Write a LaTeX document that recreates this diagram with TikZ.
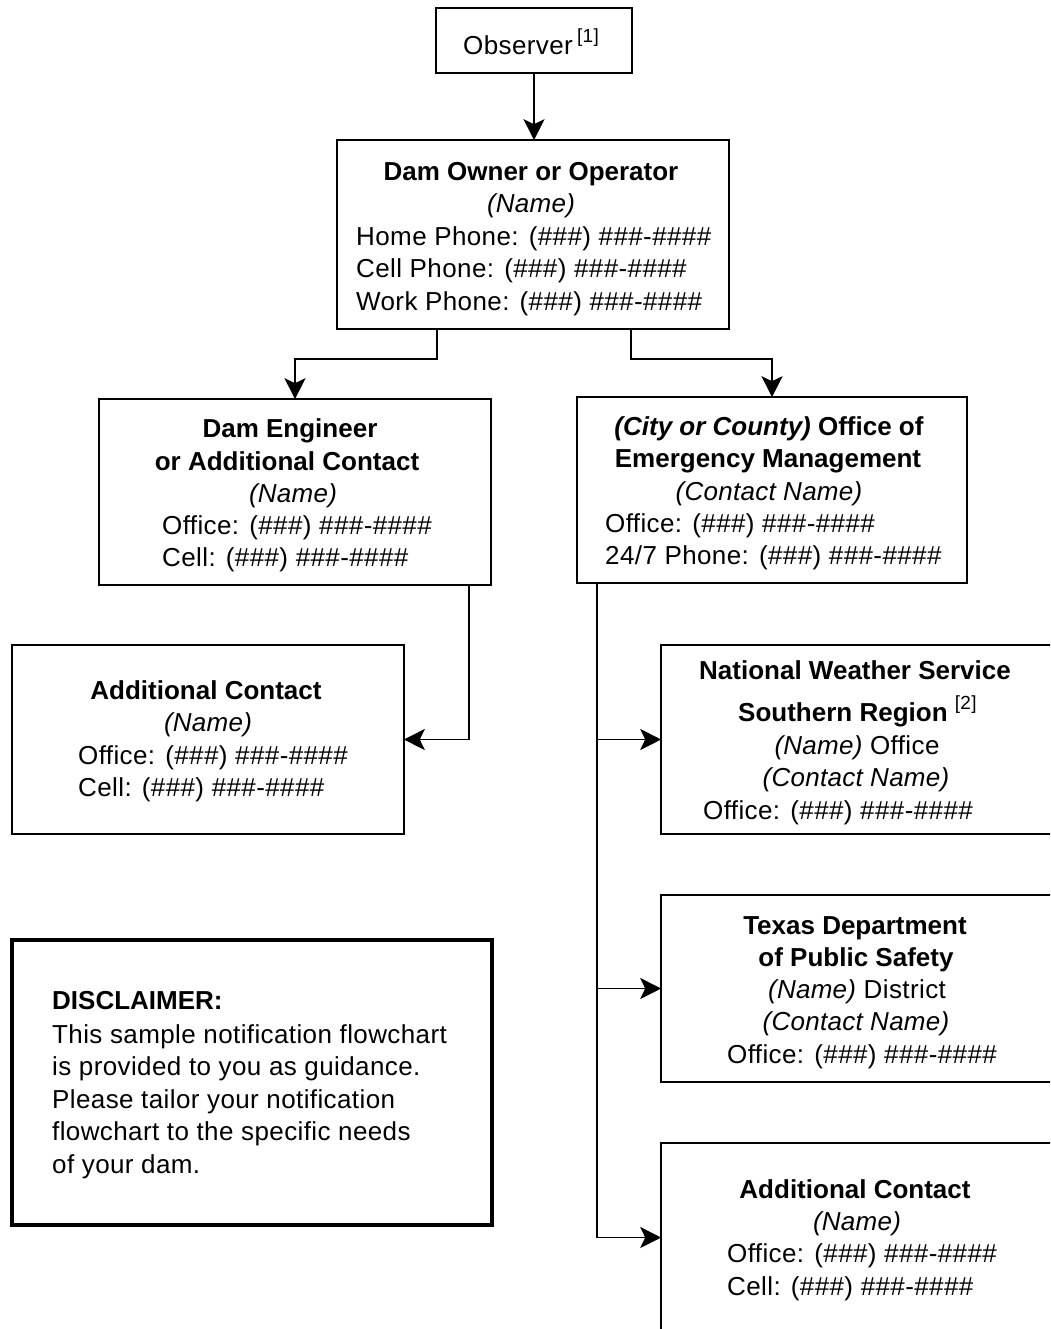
\documentclass[tikz,border=0pt]{standalone}
\usepackage{fontspec}
\setmainfont{Liberation Sans}[UprightFeatures={LetterSpace=1.5}, ItalicFeatures={LetterSpace=1.0}]
\usetikzlibrary{arrows.meta}
\newcommand{\supmark}[1]{\raisebox{12pt}{\fontsize{19}{19}\selectfont [#1]}}
\begin{document}
\begin{tikzpicture}[x=1pt,y=-1pt,
  box/.style={draw, line width=1.6pt, inner sep=0pt},
  thickbox/.style={draw, line width=3.5pt, inner sep=0pt},
  t/.style={inner sep=0pt, anchor=base, font=\fontsize{26}{31}\selectfont},
  tl/.style={inner sep=0pt, anchor=base west, font=\fontsize{26}{31}\selectfont},
  arr/.style={line width=1.6pt, -{Stealth[length=21pt,width=21pt,inset=5pt]}, shorten >=-1pt}]
\useasboundingbox (0,0) rectangle (1050,1329);
\clip (0,0) rectangle (1050,1329);
% boxes
\node[box, minimum width=196pt, minimum height=65pt] (obs) at (534,40.5) {};
\node[box, minimum width=392pt, minimum height=189pt] (owner) at (533,234.5) {};
\node[box, minimum width=392pt, minimum height=186pt] (eng) at (295,492) {};
\node[box, minimum width=390pt, minimum height=186pt] (oem) at (772,490) {};
\node[box, minimum width=392pt, minimum height=189pt] (addl) at (208,739.5) {};
\node[box, minimum width=392pt, minimum height=189pt] (nws) at (857,739.5) {};
\node[box, minimum width=392pt, minimum height=187pt] (dps) at (857,988.5) {};
\node[box, minimum width=392pt, minimum height=189pt] (addr) at (857,1237.5) {};
\node[thickbox, minimum width=480pt, minimum height=285pt] (disc) at (252,1082.5) {};
% texts
\node[tl] (obsT) at (463,55) {Observer\,\supmark{1}};
\node[t] (ownT1) at (531,181) {\bfseries Dam Owner or Operator};
\node[t] (ownT2) at (531,213) {\itshape (Name)};
\node[tl] (ownT3) at (356,246) {Home Phone: (\#\#\#) \#\#\#-\#\#\#\#};
\node[tl] (ownT4) at (356,278) {Cell Phone: (\#\#\#) \#\#\#-\#\#\#\#};
\node[tl] (ownT5) at (356,310) {Work Phone: (\#\#\#) \#\#\#-\#\#\#\#};
\node[t] (engT1) at (290,437) {\bfseries Dam Engineer};
\node[t] (engT2) at (287,470) {\bfseries or Additional Contact};
\node[t] (engT3) at (293,502) {\itshape (Name)};
\node[tl] (engT4) at (162,534) {Office: (\#\#\#) \#\#\#-\#\#\#\#};
\node[tl] (engT5) at (162,566) {Cell: (\#\#\#) \#\#\#-\#\#\#\#};
\node[t] (oemT1) at (769,435) {\bfseries\itshape (City or County)\upshape\ Office of};
\node[t] (oemT2) at (768,467) {\bfseries Emergency Management};
\node[t] (oemT3) at (769,500) {\itshape (Contact Name)};
\node[tl] (oemT4) at (605,532) {Office: (\#\#\#) \#\#\#-\#\#\#\#};
\node[tl] (oemT5) at (605,564) {24/7 Phone: (\#\#\#) \#\#\#-\#\#\#\#};
\node[t] (adlT1) at (206,699) {\bfseries Additional Contact};
\node[t] (adlT2) at (208,731) {\itshape (Name)};
\node[tl] (adlT3) at (78,764) {Office: (\#\#\#) \#\#\#-\#\#\#\#};
\node[tl] (adlT4) at (78,796) {Cell: (\#\#\#) \#\#\#-\#\#\#\#};
\node[t] (nwsT1) at (855,679) {\bfseries National Weather Service};
\node[tl] (nwsT2) at (738,721) {\bfseries Southern Region \mdseries\supmark{2}};
\node[t] (nwsT3) at (857,754) {\itshape (Name)\upshape\ Office};
\node[t] (nwsT4) at (856,786) {\itshape (Contact Name)};
\node[tl] (nwsT5) at (703,819) {Office: (\#\#\#) \#\#\#-\#\#\#\#};
\node[t] (dpsT1) at (855,934) {\bfseries Texas Department};
\node[t] (dpsT2) at (856,966) {\bfseries of Public Safety};
\node[t] (dpsT3) at (857,998) {\itshape (Name)\upshape\ District};
\node[t] (dpsT4) at (856,1030) {\itshape (Contact Name)};
\node[tl] (dpsT5) at (727,1063) {Office: (\#\#\#) \#\#\#-\#\#\#\#};
\node[t] (adrT1) at (855,1198) {\bfseries Additional Contact};
\node[t] (adrT2) at (857,1230) {\itshape (Name)};
\node[tl] (adrT3) at (727,1262) {Office: (\#\#\#) \#\#\#-\#\#\#\#};
\node[tl] (adrT4) at (727,1295) {Cell: (\#\#\#) \#\#\#-\#\#\#\#};
\node[tl] (dscT1) at (52,1009) {\bfseries DISCLAIMER:};
\node[tl] (dscT2) at (52,1043) {This sample notification flowchart};
\node[tl] (dscT3) at (52,1075) {is provided to you as guidance.};
\node[tl] (dscT4) at (52,1108) {Please tailor your notification};
\node[tl] (dscT5) at (52,1140) {flowchart to the specific needs};
\node[tl] (dscT6) at (52,1173) {of your dam.};
% connectors
\draw[arr] (obs.south) -- (obs.south |- owner.north);
\draw[arr] ([xshift=-96pt]owner.south) -- ++(0,29) -| (eng.north);
\draw[arr] ([xshift=98pt]owner.south) -- ++(0,29) -| (oem.north);
\draw[arr] ([xshift=174pt]eng.south) |- (addl.east);
\coordinate (trunk) at ([xshift=-175pt]oem.south);
\draw[arr] (trunk) |- (nws.west);
\draw[arr] (trunk) |- (dps.west);
\draw[arr] (trunk) |- (addr.west);
\end{tikzpicture}
\end{document}
